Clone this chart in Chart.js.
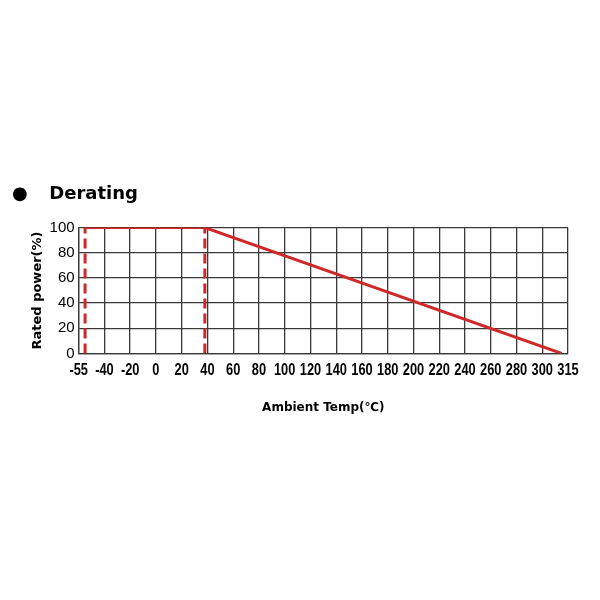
<!DOCTYPE html>
<html>
<head>
<meta charset="utf-8">
<script src="https://cdn.jsdelivr.net/npm/chart.js@4.4.1/dist/chart.umd.min.js"></script>
<style>
  html, body { margin: 0; padding: 0; background: #fff; }
  .wrap { position: relative; width: 600px; height: 600px; }
</style>
</head>
<body>
<div class="wrap"><canvas id="derating" width="600" height="600"></canvas></div>
<script>
// tick labels as printed under the grid (one per grid line, equally spaced)
const tempLabels = ["-55", "-40", "-20", "0", "20", "40", "60", "80", "100", "120",
  "140", "160", "180", "200", "220", "240", "260", "280", "300", "315"];
const powerTicks = [0, 20, 40, 60, 80, 100];

// derating curve
const curveTemp = [-55, 38, 315];
const curvePower = [100, 100, 0];

// dashed limit lines
const limitTemp = [-55, 38];

const red = "#d02828";
const gridCol = "#3a3a3a";
const plain = "'Liberation Sans', Arial, sans-serif";
const wide = "'DejaVu Sans', Verdana, sans-serif";

const curve = curveTemp.map((t, i) => ({ x: t, y: curvePower[i] }));

const limitSets = limitTemp.map(t => ({
  data: [{ x: t, y: 0 }, { x: t, y: 100 }],
  borderColor: red,
  borderWidth: 3,
  borderDash: [10, 5],
  pointRadius: 0,
}));

// the x labels in the original are a tall condensed face; no such font here,
// so the scale's own labels are drawn squeezed at the tick pixels
const narrowTicks = {
  id: "narrowTicks",
  afterDraw(chart) {
    const sc = chart.scales.x;
    const ctx = chart.ctx;
    ctx.save();
    ctx.fillStyle = "#000";
    ctx.font = "bold 16px " + plain;
    ctx.textAlign = "center";
    ctx.textBaseline = "top";
    sc.ticks.forEach((t, i) => {
      ctx.save();
      ctx.translate(sc.getPixelForTick(i), sc.top + 9);
      ctx.scale(0.8, 1);
      ctx.fillText(tempLabels[i], 0, 0);
      ctx.restore();
    });
    ctx.restore();
  },
};

new Chart(document.getElementById("derating"), {
  type: "line",
  data: {
    datasets: [
      {
        data: curve,
        borderColor: red,
        borderWidth: 3,
        pointRadius: 0,
      },
      ...limitSets,
    ],
  },
  plugins: [narrowTicks],
  options: {
    responsive: false,
    animation: false,
    layout: { padding: { top: 184, left: 12, right: 32, bottom: 181 } },
    plugins: {
      legend: { display: false },
      tooltip: { enabled: false },
      title: {
        display: true,
        text: "\u25CF\u2003\u2009Derating",
        align: "start",
        color: "#000",
        font: { family: wide, size: 18, weight: "bold" },
        padding: { top: 0, bottom: 22 },
      },
    },
    scales: {
      x: {
        type: "linear",
        min: -60,
        max: 320,
        ticks: {
          stepSize: 20,
          autoSkip: false,
          maxRotation: 0,
          color: "rgba(0,0,0,0)",
          padding: 7,
          font: { family: plain, size: 16, weight: "bold" },
          callback: (v, i) => tempLabels[i],
        },
        grid: { color: gridCol, lineWidth: 1.3, drawTicks: false },
        border: { color: gridCol, width: 1.3 },
        title: {
          display: true,
          text: "Ambient Temp(\u2103)",
          color: "#000",
          font: { family: wide, size: 12, weight: "bold" },
          padding: { top: 14 },
        },
      },
      y: {
        min: 0,
        max: 100,
        afterBuildTicks: axis => { axis.ticks = powerTicks.map(v => ({ value: v })); },
        ticks: {
          color: "#000",
          padding: 4,
          font: { family: plain, size: 15 },
        },
        grid: { color: gridCol, lineWidth: 1.3, drawTicks: false },
        border: { color: gridCol, width: 1.3 },
        title: {
          display: true,
          text: "Rated power(%)",
          color: "#000",
          font: { family: wide, size: 13, weight: "bold" },
          padding: { top: 18, bottom: 0 },
        },
      },
    },
  },
});
</script>
</body>
</html>
